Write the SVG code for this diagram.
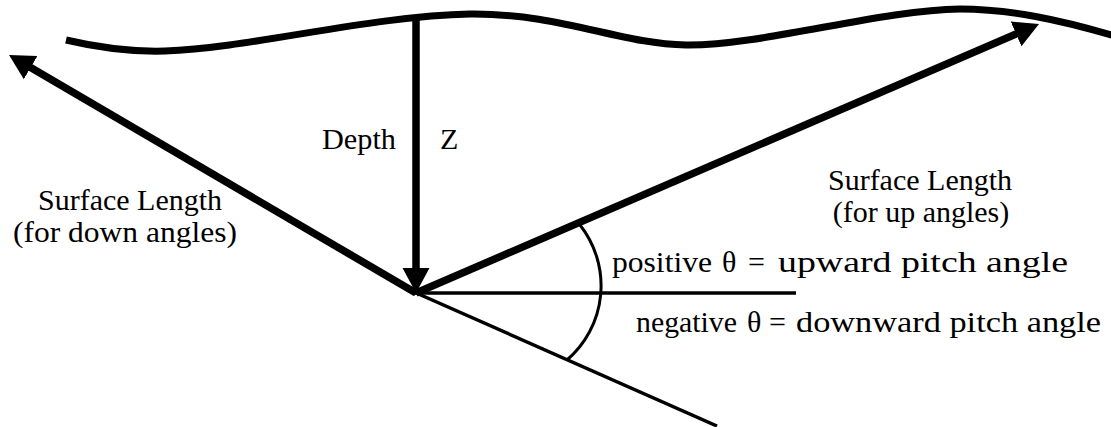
<svg xmlns="http://www.w3.org/2000/svg" width="1111" height="427" viewBox="0 0 1111 427">
<style>
.thick{fill:none;stroke:#000;stroke-width:7.5}
.wave{fill:none;stroke:#000;stroke-width:7;stroke-linecap:butt}
.thin{fill:none;stroke:#000;stroke-width:3.5}
.arc{fill:none;stroke:#000;stroke-width:3}
text{font-family:"Liberation Serif","Times New Roman",serif;font-size:30px;fill:#000}
</style>
<defs>
<marker id="ah" markerUnits="userSpaceOnUse" markerWidth="26" markerHeight="28" refX="2" refY="13.5" orient="auto" viewBox="0 0 26 27">
<path d="M0,0 L25,13.5 L0,27 z" fill="#000"/>
</marker>
</defs>
<g id="surface">
<path class="wave" d="M66,40 C100,48 130,52 165,51 C250,48 370,16 470,14 C560,13 620,44 686,45 C760,46 880,10 960,9 C1010,9 1060,20 1115,36"/>
</g>
<g id="connectors">
<path class="thick" d="M416,15 L416,270" marker-end="url(#ah)"/>
<path class="thick" d="M416,293 L28.9,66.6" marker-end="url(#ah)"/>
<path class="thick" d="M416,293 L1017.9,33.1" marker-end="url(#ah)"/>
<path class="thin" d="M414,293 L796,293"/>
<path class="thin" d="M414,292 L717,426"/>
<path class="arc" d="M580,225 A98,98 0 0 1 567,360"/>
</g>
<g id="depth-label">
<text x="322" y="149" textLength="74" lengthAdjust="spacingAndGlyphs">Depth</text>
<text x="440" y="149">Z</text>
</g>
<g id="down-label">
<text x="38" y="210" textLength="184" lengthAdjust="spacingAndGlyphs">Surface Length</text>
<text x="13" y="242" textLength="224" lengthAdjust="spacingAndGlyphs">(for down angles)</text>
</g>
<g id="up-label">
<text x="920" y="190" text-anchor="middle">Surface Length</text>
<text x="921" y="222" text-anchor="middle">(for up angles)</text>
</g>
<g id="positive-label">
<text y="272"><tspan x="612" textLength="100" lengthAdjust="spacingAndGlyphs">positive</tspan><tspan x="722">θ</tspan><tspan x="748">=</tspan><tspan x="778" textLength="290" lengthAdjust="spacingAndGlyphs">upward pitch angle</tspan></text>
</g>
<g id="negative-label">
<text y="332"><tspan x="636" textLength="101" lengthAdjust="spacingAndGlyphs">negative</tspan><tspan x="747">θ</tspan><tspan x="769">=</tspan><tspan x="796" textLength="305" lengthAdjust="spacingAndGlyphs">downward pitch angle</tspan></text>
</g>
</svg>
